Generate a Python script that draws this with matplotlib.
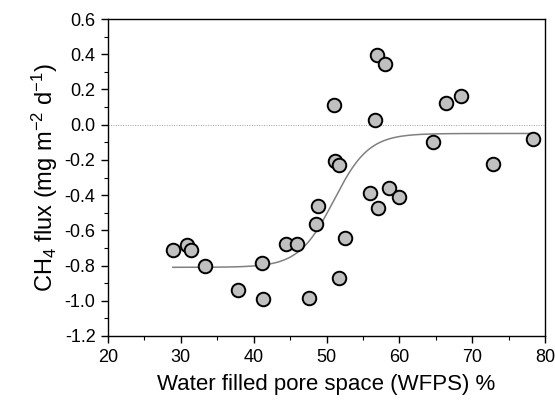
import numpy as np
import matplotlib
matplotlib.use("Agg")
import matplotlib.pyplot as plt
from matplotlib.ticker import MultipleLocator

plt.rcParams['font.family'] = ['Liberation Sans', 'DejaVu Sans']
plt.rcParams['mathtext.fontset'] = 'custom'
plt.rcParams['mathtext.rm'] = 'Liberation Sans'
plt.rcParams['mathtext.it'] = 'Liberation Sans:italic'
plt.rcParams['mathtext.bf'] = 'Liberation Sans:bold'

# Observed data: WFPS (%) and CH4 flux (mg m-2 d-1)
wfps = [56.9, 58.0, 51.0, 56.6, 66.4, 68.5, 64.6, 78.4, 72.9, 51.1, 51.7,
        56.0, 58.6, 60.0, 57.1, 48.8, 48.5, 52.5, 44.5, 46.0, 28.9, 30.8,
        31.4, 33.3, 41.2, 51.7, 37.8, 41.3, 47.6]
flux = [0.395, 0.345, 0.110, 0.026, 0.124, 0.164, -0.100, -0.084, -0.222,
        -0.207, -0.231, -0.390, -0.358, -0.410, -0.476, -0.464, -0.563,
        -0.644, -0.678, -0.678, -0.714, -0.684, -0.711, -0.800, -0.784,
        -0.872, -0.940, -0.990, -0.985]

# Fitted sigmoid
fit_lower = -0.81
fit_upper = -0.05
fit_mid = 51.0
fit_width = 2.4
fit_xmin, fit_xmax = 28.9, 78.4

xticks = [20, 30, 40, 50, 60, 70, 80]
yticks = [0.6, 0.4, 0.2, 0.0, -0.2, -0.4, -0.6, -0.8, -1.0, -1.2]

fig = plt.figure(figsize=(5.55, 4.08), dpi=100)
ax = fig.add_axes([108/555, 1-336/408, (545-108)/555, (336-19)/408])

ax.axhline(0, color='#a0a0a0', lw=0.7, ls=(0, (1, 1.5)), zorder=1)

xf = np.linspace(fit_xmin, fit_xmax, 300)
yf = fit_lower + (fit_upper - fit_lower) / (1 + np.exp(-(xf - fit_mid) / fit_width))
ax.plot(xf, yf, color='#808080', lw=1.1, zorder=2)

ax.scatter(wfps, flux, s=95, facecolor='#c0c0c0', edgecolor='black',
           linewidth=1.4, zorder=3)

ax.set_xlim(20, 80)
ax.set_ylim(-1.2, 0.6)
ax.set_xticks(xticks)
ax.set_yticks(yticks)
ax.set_yticklabels([f"{v:.1f}" for v in yticks])
ax.xaxis.set_minor_locator(MultipleLocator(5))
ax.yaxis.set_minor_locator(MultipleLocator(0.1))
ax.tick_params(which='major', direction='out', length=5, width=1, labelsize=13,
               top=False, right=False, pad=4)
ax.tick_params(which='minor', direction='out', length=3, width=0.8,
               top=False, right=False)
for s in ax.spines.values():
    s.set_linewidth(1.0)

ax.set_xlabel('Water filled pore space (WFPS) %', fontsize=16, labelpad=6)
ax.set_ylabel('CH$_4$ flux (mg m$^{-2}$ d$^{-1}$)', fontsize=17, labelpad=3)

fig.savefig('out.png', dpi=100)
